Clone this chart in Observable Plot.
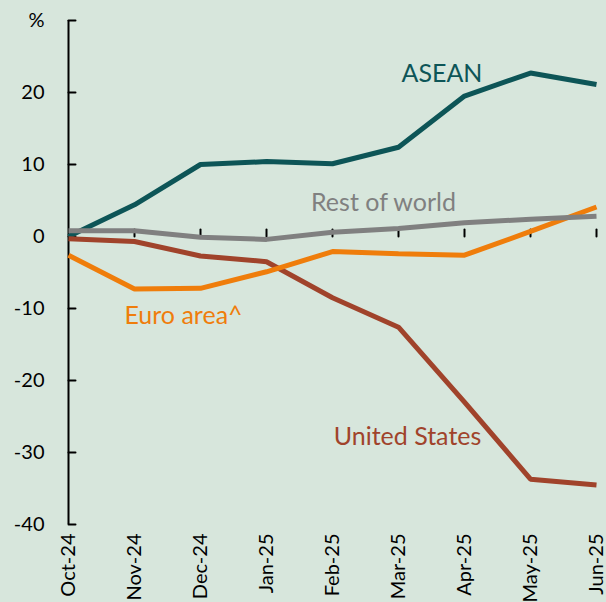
<!DOCTYPE html>
<html>
<head>
<meta charset="utf-8">
<script src="https://cdn.jsdelivr.net/npm/d3@7"></script>
<script src="https://cdn.jsdelivr.net/npm/@observablehq/plot@0.6"></script>
<style>
  html, body { margin: 0; padding: 0; background: #d7e6dc; }
  #chart { width: 606px; height: 602px; }
</style>
</head>
<body>
<div id="chart"></div>
<script>
const months = ["Oct-24","Nov-24","Dec-24","Jan-25","Feb-25","Mar-25","Apr-25","May-25","Jun-25"];
const asean       = [0.0, 4.4, 10.0, 10.4, 10.1, 12.4, 19.5, 22.7, 21.1];
const restOfWorld = [0.8, 0.8, -0.1, -0.4, 0.6, 1.1, 1.9, 2.4, 2.8];
const unitedStates= [-0.3, -0.7, -2.7, -3.5, -8.5, -12.6, -23.0, -33.7, -34.5];
const euroArea    = [-2.6, -7.3, -7.2, -4.9, -2.1, -2.4, -2.6, 0.7, 4.1];
const yTicks = [-40, -30, -20, -10, 0, 10, 20, 30];

const seriesNames = ["ASEAN", "United States", "Euro area^", "Rest of world"];
const seriesValues = [asean, unitedStates, euroArea, restOfWorld];
const seriesColors = ["#0d5557", "#a0432b", "#ef7d0b", "#808080"];

const labels = [
  {name: "ASEAN", month: "Mar-25", value: 22.6, anchor: "start", dx: 3},
  {name: "Rest of world", month: "Mar-25", value: 4.6, anchor: "middle", dx: -15},
  {name: "Euro area^", month: "Dec-24", value: -11.0, anchor: "middle", dx: -17},
  {name: "United States", month: "Mar-25", value: -27.9, anchor: "middle", dx: 9}
];

const rows = [];
seriesNames.forEach((s, i) => months.forEach((m, j) => rows.push({series: s, month: m, value: seriesValues[i][j]})));

const colorOf = Object.fromEntries(seriesNames.map((s, i) => [s, seriesColors[i]]));
const tickShape = {draw(ctx, l) { ctx.moveTo(0, 0); ctx.lineTo(0, -l); }};

const plot = Plot.plot({
  width: 606,
  height: 602,
  marginLeft: 66,
  marginRight: 9,
  marginTop: 20,
  marginBottom: 78,
  style: {background: "#d7e6dc", fontFamily: "Lato, sans-serif", fontSize: "20px", color: "#000"},
  x: {type: "point", domain: months, padding: 0},
  y: {domain: [-40, 30]},
  marks: [
    Plot.ruleY(yTicks.filter(d => d !== 0), {y: d => d, x1: months[0], x2: months[months.length - 1], insetLeft: 7, stroke: "#f2f2f2", strokeWidth: 1.6}),
    Plot.ruleY([0], {x1: months[0], x2: months[months.length - 1], stroke: "#000", strokeWidth: 1.5}),
    Plot.ruleX([months[0]], {y1: -40, y2: 30, stroke: "#000", strokeWidth: 2}),
    Plot.vector(yTicks, {x: () => months[0], y: d => d, length: 7, rotate: 90, anchor: "start", shape: tickShape, stroke: "#000", strokeWidth: 2}),
    Plot.vector(months.slice(1), {x: d => d, y: () => 0, length: 7, rotate: 0, anchor: "start", shape: tickShape, stroke: "#000", strokeWidth: 2}),
    Plot.axisY({ticks: yTicks, tickSize: 0, tickPadding: 22, tickFormat: d => d === 30 ? "%" : String(d), fontSize: 20, label: null}),
    Plot.axisX({anchor: "bottom", tickSize: 0, tickPadding: 9, tickRotate: -90, fontSize: 20, label: null}),
    ...seriesNames.map(s => Plot.line(rows.filter(r => r.series === s), {x: "month", y: "value", stroke: colorOf[s], strokeWidth: 5, strokeLinejoin: "miter", strokeLinecap: "butt"})),
    ...labels.map(l => Plot.text([l], {x: "month", y: "value", text: "name", textAnchor: l.anchor, dx: l.dx, fill: colorOf[l.name], fontSize: 25}))
  ]
});
document.getElementById("chart").appendChild(plot);
</script>
</body>
</html>
